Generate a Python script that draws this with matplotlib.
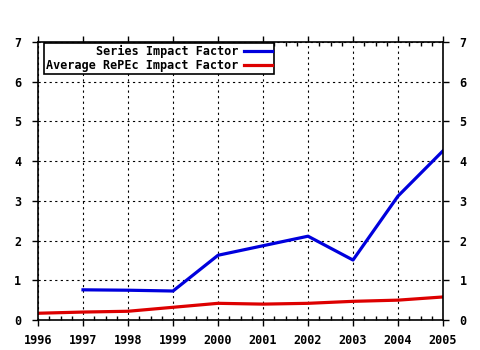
import matplotlib
matplotlib.use("Agg")
import matplotlib.pyplot as plt
from matplotlib.ticker import MultipleLocator

years = [1996, 1997, 1998, 1999, 2000, 2001, 2002, 2003, 2004, 2005]
series_years = [1997, 1998, 1999, 2000, 2001, 2002, 2003, 2004, 2005]
series_if = [0.76, 0.75, 0.73, 1.63, 1.87, 2.11, 1.51, 3.12, 4.26]
repec_if = [0.17, 0.20, 0.22, 0.32, 0.42, 0.40, 0.42, 0.47, 0.50, 0.58]
labels = ["Series Impact Factor", "Average RePEc Impact Factor"]

plt.rcParams['font.family'] = ['DejaVu Sans Mono']
plt.rcParams['font.weight'] = 'bold'

fig = plt.figure(figsize=(4.8, 3.5), dpi=100)
ax = fig.add_axes([38/480, 30/350, 405/480, 278/350])

ax.plot(series_years, series_if, color='#0000dd', lw=2.3, label=labels[0])
ax.plot(years, repec_if, color='#dd0000', lw=2.3, label=labels[1])

ax.set_xlim(1996, 2005)
ax.set_ylim(0, 7)
ax.set_xticks(years)
ax.set_yticks(range(8))
ax.xaxis.set_minor_locator(MultipleLocator(0.25))
ax.grid(True, which='major', color='black', linestyle=(0, (2, 3)), lw=0.8)

for s in ax.spines.values():
    s.set_linewidth(1.2)

ax.tick_params(axis='x', which='major', direction='out', length=4, width=1,
               top=True, labelsize=8.5, pad=6)
ax.tick_params(axis='x', which='minor', direction='in', length=3, width=1, top=True)
ax.tick_params(axis='y', which='major', direction='out', length=4, width=1,
               right=True, labelright=True, labelsize=8.5, pad=8)

leg = ax.legend(loc='upper left', bbox_to_anchor=(0.015, 0.997), markerfirst=False,
                fancybox=False, framealpha=1, edgecolor='black', fontsize=8.5,
                handlelength=2.4, borderpad=0.15, labelspacing=0.1,
                handletextpad=0.5, borderaxespad=0)
leg.get_frame().set_linewidth(1.2)

fig.savefig("out.png", dpi=100)
